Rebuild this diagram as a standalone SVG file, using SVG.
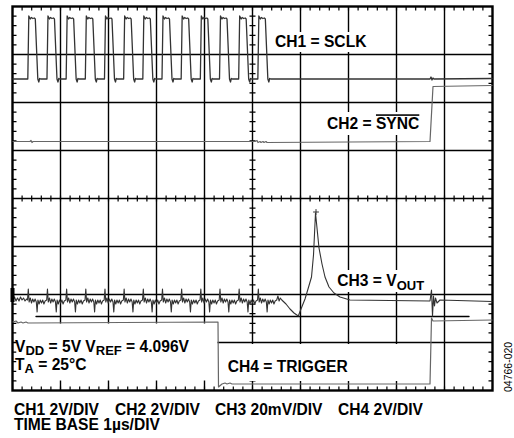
<svg xmlns="http://www.w3.org/2000/svg" width="514" height="438" viewBox="0 0 514 438">
<style>
.grid{stroke:#000;stroke-width:1.4;fill:none}
.frame{stroke:#000;stroke-width:2.4;fill:none}
.tk{stroke:#000;stroke-width:4;stroke-dasharray:1.2 8.4;stroke-dashoffset:0.6;fill:none}
.tc{stroke:#000;stroke-width:6;stroke-dasharray:1.2 8.4;stroke-dashoffset:0.6;fill:none}
.bg{fill:#fff;stroke:none}
.tr{fill:none;stroke-linejoin:round;stroke-linecap:round}
.lbl{font-family:"Liberation Sans",Arial,sans-serif;font-weight:bold;font-size:15.6px;fill:#000}
.sub{font-size:13px}
</style>
<rect width="514" height="438" fill="#fff"/>
<g id="grid">
<path class="grid" d="M60.5,6.5V390.5M108.5,6.5V390.5M156.5,6.5V390.5M204.5,6.5V390.5M252.5,6.5V390.5M300.5,6.5V390.5M348.5,6.5V390.5M396.5,6.5V390.5M444.5,6.5V390.5M12.5,54.5H492.5M12.5,102.5H492.5M12.5,150.5H492.5M12.5,198.5H492.5M12.5,246.5H492.5M12.5,294.5H492.5M12.5,342.5H492.5"/>
<path class="tk" d="M12.5,8.5H492.5M12.5,388.5H492.5M14.5,6.5V390.5M490.5,6.5V390.5"/>
<path class="tc" d="M12.5,198.5H492.5M252.5,6.5V390.5"/>
<rect class="frame" x="12.5" y="6.5" width="480" height="384"/>
</g>
<g id="label-backgrounds">
<rect class="bg" x="272" y="32" width="100" height="20"/>
<rect class="bg" x="324" y="112" width="100" height="23"/>
<rect class="bg" x="334" y="270" width="94" height="22"/>
<rect class="bg" x="16.5" y="323.5" width="201" height="57"/>
<rect class="bg" x="222" y="344" width="207" height="37"/>
</g>
<g id="traces">
<path id="ch2" class="tr" stroke="#666" stroke-width="1.2" d="M13,141.5L30,141.5l1,-1l1,2l1,-1L255,141.5l2,-1l1,2l2,-1l1,1l2,-1l1,1l2,-1l1,1L430,141.5L433,86.5L492,85.5"/>
<path id="ch4" class="tr" stroke="#666" stroke-width="1.2" d="M13,322l3,-1l2,2l3,-1l2,1l3,-1l2,1L218,322L218.5,387L222,384l3,-1l2,1l3,-1l2,1L430,384L431.5,318L433,321L492,320"/>
<path id="ref" class="tr" stroke="#000" stroke-width="1.4" d="M36,316.5H469"/>
<path id="ch1" class="tr" stroke="#333" stroke-width="1.3" d="M13,79L27.8,79l1,-63l1.5,3l1,-1.5l1.5,1l1.5,-0.5l1,1l2.5,60l1,3l0.8,-3.5l1,0.5l6.37,0l1,-63l1.5,3l1,-1.5l1.5,1l1.5,-0.5l1,1l2.5,60l1,3l0.8,-3.5l1,0.5l6.37,0l1,-63l1.5,3l1,-1.5l1.5,1l1.5,-0.5l1,1l2.5,60l1,3l0.8,-3.5l1,0.5l6.37,0l1,-63l1.5,3l1,-1.5l1.5,1l1.5,-0.5l1,1l2.5,60l1,3l0.8,-3.5l1,0.5l6.37,0l1,-63l1.5,3l1,-1.5l1.5,1l1.5,-0.5l1,1l2.5,60l1,3l0.8,-3.5l1,0.5l6.37,0l1,-63l1.5,3l1,-1.5l1.5,1l1.5,-0.5l1,1l2.5,60l1,3l0.8,-3.5l1,0.5l6.37,0l1,-63l1.5,3l1,-1.5l1.5,1l1.5,-0.5l1,1l2.5,60l1,3l0.8,-3.5l1,0.5l6.37,0l1,-63l1.5,3l1,-1.5l1.5,1l1.5,-0.5l1,1l2.5,60l1,3l0.8,-3.5l1,0.5l6.37,0l1,-63l1.5,3l1,-1.5l1.5,1l1.5,-0.5l1,1l2.5,60l1,3l0.8,-3.5l1,0.5l6.37,0l1,-63l1.5,3l1,-1.5l1.5,1l1.5,-0.5l1,1l2.5,60l1,3l0.8,-3.5l1,0.5l6.37,0l1,-63l1.5,3l1,-1.5l1.5,1l1.5,-0.5l1,1l2.5,60l1,3l0.8,-3.5l1,0.5l6.37,0l1,-63l1.5,3l1,-1.5l1.5,1l1.5,-0.5l1,1l2.5,60l1,3l0.8,-3.5l1,0.5l6.37,0l1,-63l1.5,3l1,-1.5l1.5,1l1.5,-0.5l1,1l2.5,60l1,3l0.8,-3.5l1,0.5L430,79l1,-2l1,3l1,-2l1,1L492,78.5"/>
<path id="ch3" class="tr" stroke="#333" stroke-width="1.1" d="M13,300l1.5,-3l1.5,4l1.5,-3l1.5,3l1.5,-4l1.5,3l1.5,-2l1.5,3l1.5,-2l1,1l0.8,-11l0.8,13l1.2,-4l1.2,5l1.2,-4l1.2,3l1.2,-3l1.2,3l0.8,10l0.8,-12l1.2,4l1.2,-4l1.2,3l1.2,-3l1.2,4l1.2,-3l1.57,-1l0.8,-11l0.8,13l1.2,-4l1.2,5l1.2,-4l1.2,3l1.2,-3l1.2,3l0.8,10l0.8,-12l1.2,4l1.2,-4l1.2,3l1.2,-3l1.2,4l1.2,-3l1.57,-1l0.8,-11l0.8,13l1.2,-4l1.2,5l1.2,-4l1.2,3l1.2,-3l1.2,3l0.8,10l0.8,-12l1.2,4l1.2,-4l1.2,3l1.2,-3l1.2,4l1.2,-3l1.57,-1l0.8,-11l0.8,13l1.2,-4l1.2,5l1.2,-4l1.2,3l1.2,-3l1.2,3l0.8,10l0.8,-12l1.2,4l1.2,-4l1.2,3l1.2,-3l1.2,4l1.2,-3l1.57,-1l0.8,-11l0.8,13l1.2,-4l1.2,5l1.2,-4l1.2,3l1.2,-3l1.2,3l0.8,10l0.8,-12l1.2,4l1.2,-4l1.2,3l1.2,-3l1.2,4l1.2,-3l1.57,-1l0.8,-11l0.8,13l1.2,-4l1.2,5l1.2,-4l1.2,3l1.2,-3l1.2,3l0.8,10l0.8,-12l1.2,4l1.2,-4l1.2,3l1.2,-3l1.2,4l1.2,-3l1.57,-1l0.8,-11l0.8,13l1.2,-4l1.2,5l1.2,-4l1.2,3l1.2,-3l1.2,3l0.8,10l0.8,-12l1.2,4l1.2,-4l1.2,3l1.2,-3l1.2,4l1.2,-3l1.57,-1l0.8,-11l0.8,13l1.2,-4l1.2,5l1.2,-4l1.2,3l1.2,-3l1.2,3l0.8,10l0.8,-12l1.2,4l1.2,-4l1.2,3l1.2,-3l1.2,4l1.2,-3l1.57,-1l0.8,-11l0.8,13l1.2,-4l1.2,5l1.2,-4l1.2,3l1.2,-3l1.2,3l0.8,10l0.8,-12l1.2,4l1.2,-4l1.2,3l1.2,-3l1.2,4l1.2,-3l1.57,-1l0.8,-11l0.8,13l1.2,-4l1.2,5l1.2,-4l1.2,3l1.2,-3l1.2,3l0.8,10l0.8,-12l1.2,4l1.2,-4l1.2,3l1.2,-3l1.2,4l1.2,-3l1.57,-1l0.8,-11l0.8,13l1.2,-4l1.2,5l1.2,-4l1.2,3l1.2,-3l1.2,3l0.8,10l0.8,-12l1.2,4l1.2,-4l1.2,3l1.2,-3l1.2,4l1.2,-3l1.57,-1l0.8,-11l0.8,13l1.2,-4l1.2,5l1.2,-4l1.2,3l1.2,-3l1.2,3l0.8,10l0.8,-12l1.2,4l1.2,-4l1.2,3l1.2,-3l1.2,4l1.2,-3l1.57,-1l0.8,-11l0.8,13l1.2,-4l1.2,5l1.2,-4l1.2,3l1.2,-3l1.2,3l0.8,10l0.8,-12l1.2,4l1.2,-4l1.2,3l1.2,-3l1.2,4l1.2,-3l1.57,-1l1.2,-4l1.2,5l1.2,-3l1.5,2L286,304L290,309L294,313L298.3,316L301,309L305,299L308,289L311.5,277L313.5,255L315.5,213L317,228L319,248L322,264L325,277L329,287L334,293L340,297L350,300L430,301L431.5,290L432.5,316L433.5,296L434.5,306L435.5,298L437,303L440,300L492,301.5"/>
<path id="peak-marker" class="tr" stroke="#333" stroke-width="1" d="M313.5,212H318.5M316,209.5V214.5"/>
<rect id="gnd-marker" x="10.5" y="288" width="4" height="14" fill="#000"/>
</g>
<g id="labels">
<text class="lbl" x="275" y="46.5">CH1 = SCLK</text>
<text class="lbl" x="327" y="129.3">CH2 = <tspan text-decoration="overline">SYNC</tspan></text>
<text class="lbl" x="337.3" y="286">CH3 = V<tspan class="sub" dy="3.5">OUT</tspan></text>
<text class="lbl" x="15" y="351.5">V<tspan class="sub" dy="3">DD</tspan><tspan dy="-3"> = 5V V</tspan><tspan class="sub" dy="3">REF</tspan><tspan dy="-3"> = 4.096V</tspan></text>
<text class="lbl" x="15" y="370">T<tspan class="sub" dy="3">A</tspan><tspan dy="-3"> = 25°C</tspan></text>
<text class="lbl" x="227.7" y="372">CH4 = TRIGGER</text>
<text class="lbl" y="415"><tspan x="14">CH1 2V/DIV</tspan><tspan x="115">CH2 2V/DIV</tspan><tspan x="215">CH3 20mV/DIV</tspan><tspan x="338">CH4 2V/DIV</tspan></text>
<text class="lbl" x="14" y="430">TIME BASE 1µs/DIV</text>
<text transform="translate(512,392) rotate(-90)" font-family="'Liberation Sans',Arial,sans-serif" font-size="10.5" fill="#000">04766-020</text>
</g>
</svg>
